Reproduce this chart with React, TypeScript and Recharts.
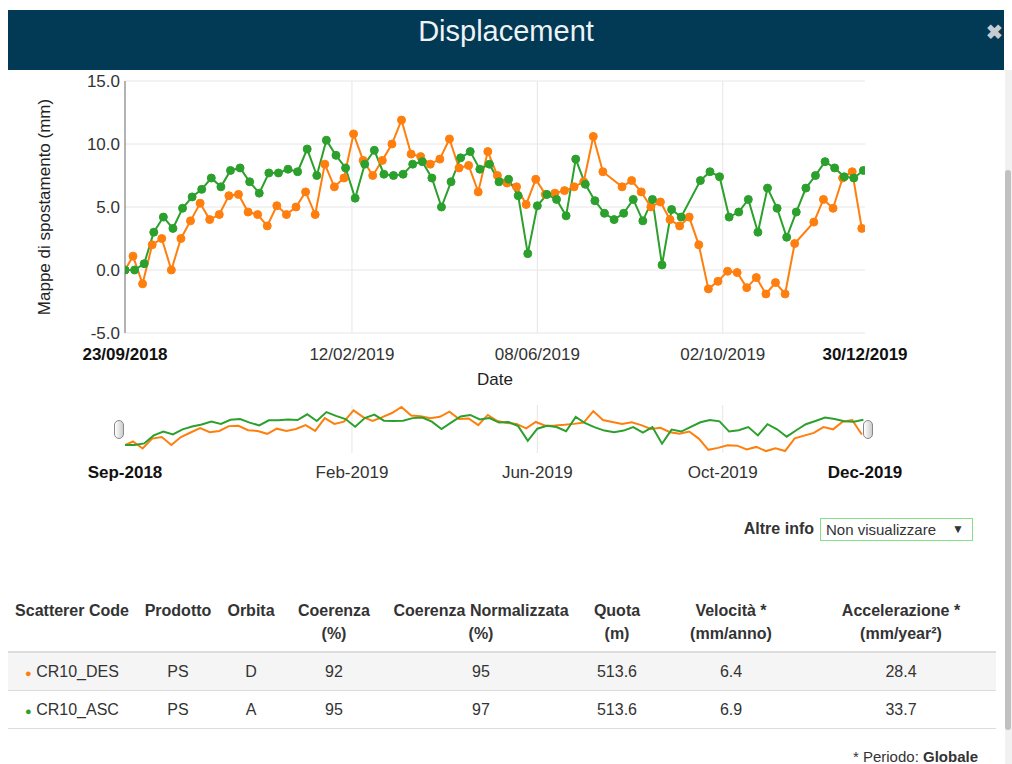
import React from "react"
import { LineChart, Line, XAxis, YAxis, CartesianGrid } from "recharts"

// acquisition days counted from the first date of the series
const startDate = "2018-09-23"
const tickDates = ["2018-09-23", "2019-02-12", "2019-06-08", "2019-10-02", "2019-12-30"]
const yTicks = [-5, 0, 5, 10, 15]
const monthNames = ["Jan", "Feb", "Mar", "Apr", "May", "Jun", "Jul", "Aug", "Sep", "Oct", "Nov", "Dec"]

const desDays = [
  0, 5, 11, 17, 23, 29, 35, 41, 47, 53, 59, 65, 71, 77, 83, 89, 95, 101, 107, 113, 119, 125, 131, 137,
  143, 149, 155, 161, 167, 173, 179, 185, 191, 197, 203, 209, 215, 221, 227, 233, 239, 245, 251, 257,
  263, 269, 275, 281, 287, 293, 299, 311, 317, 323, 329, 335, 341, 347, 353, 359, 365, 371, 377, 383,
  389, 395, 401, 407, 413, 419, 431, 437, 443, 449, 455, 461,
]
const desValues = [
  0.0, 1.1, -1.1, 2.0, 2.5, 0.0, 2.5, 3.9, 5.3, 4.0, 4.4, 5.9, 6.0, 4.6, 4.4, 3.5, 5.1, 4.4, 5.0, 6.2,
  4.4, 8.4, 6.6, 7.3, 10.8, 8.7, 7.5, 8.7, 10.0, 11.9, 9.2, 9.0, 8.4, 8.8, 10.4, 8.1, 8.3, 6.2, 9.4,
  7.5, 6.9, 6.6, 5.2, 7.2, 6.0, 6.1, 6.3, 6.6, 7.0, 10.6, 7.8, 6.6, 7.1, 6.2, 5.0, 5.4, 4.0, 3.5, 4.2,
  2.0, -1.5, -0.9, -0.1, -0.2, -1.4, -0.6, -1.9, -1.0, -1.9, 2.1, 3.8, 5.6, 4.9, 7.3, 7.8, 3.3,
]

const ascDays = [
  0, 6, 12, 18, 24, 30, 36, 42, 48, 54, 60, 66, 72, 78, 84, 90, 96, 102, 108, 114, 120, 126, 132, 138,
  144, 150, 156, 162, 168, 174, 180, 186, 192, 198, 204, 210, 216, 222, 228, 234, 240, 246, 252, 258,
  264, 270, 276, 282, 288, 294, 300, 306, 312, 318, 324, 330, 336, 342, 348, 360, 366, 372, 378, 384,
  390, 396, 402, 408, 414, 420, 426, 432, 438, 444, 450, 456, 462,
]
const ascValues = [
  0.0, 0.0, 0.5, 3.0, 4.2, 3.3, 4.9, 5.8, 6.4, 7.3, 6.6, 7.9, 8.1, 7.0, 6.1, 7.7, 7.7, 8.0, 7.8, 9.6,
  7.5, 10.3, 9.1, 8.1, 5.7, 8.4, 9.5, 7.6, 7.5, 7.6, 8.4, 8.6, 7.3, 5.0, 7.0, 8.9, 9.4, 8.0, 8.4, 7.0,
  7.2, 5.9, 1.3, 5.1, 6.0, 5.6, 4.3, 8.8, 6.8, 5.5, 4.5, 4.0, 4.5, 5.6, 3.9, 5.6, 0.4, 4.8, 4.2, 7.1,
  7.8, 7.4, 4.2, 4.6, 5.6, 3.0, 6.5, 4.9, 2.6, 4.6, 6.5, 7.5, 8.6, 8.1, 7.4, 7.3, 7.9,
]

const tableHeaders = [
  ["Scatterer Code"],
  ["Prodotto"],
  ["Orbita"],
  ["Coerenza", "(%)"],
  ["Coerenza Normalizzata", "(%)"],
  ["Quota", "(m)"],
  ["Velocità *", "(mm/anno)"],
  ["Accelerazione *", "(mm/year²)"],
]
const desRow = ["CR10_DES", "PS", "D", "92", "95", "513.6", "6.4", "28.4"]
const ascRow = ["CR10_ASC", "PS", "A", "95", "97", "513.6", "6.9", "33.7"]

const DAY = 86400000
const t0 = Date.parse(startDate)
const tickTimes = tickDates.map((d) => Date.parse(d))
const desData = desDays.map((d, i) => ({ t: t0 + d * DAY, v: desValues[i] }))
const ascData = ascDays.map((d, i) => ({ t: t0 + d * DAY, v: ascValues[i] }))

const FONT = '"Liberation Sans", Arial, Helvetica, sans-serif'
const ORANGE = "#ff7f0e"
const GREEN = "#2ca02c"
const GRID = "#e6e6e6"
const colCenters = [72, 178, 251, 334, 481, 617, 731, 901]

const pad = (n: number) => String(n).padStart(2, "0")
const fmtFull = (t: number) => {
  const d = new Date(t)
  return `${pad(d.getUTCDate())}/${pad(d.getUTCMonth() + 1)}/${d.getUTCFullYear()}`
}
const fmtMonth = (t: number) => {
  const d = new Date(t)
  return `${monthNames[d.getUTCMonth()]}-${d.getUTCFullYear()}`
}

function dateTick(fmt: (t: number) => string, dy: number) {
  return (props: any) => {
    const { x, y, payload } = props
    const v = payload.value
    const edge = v === tickTimes[0] || v === tickTimes[tickTimes.length - 1]
    return (
      <text
        x={x}
        y={y}
        dy={dy}
        textAnchor="middle"
        fontFamily={FONT}
        fontSize={17}
        fontWeight={edge ? 700 : 400}
        fill={edge ? "#111" : "#333"}
      >
        {fmt(v)}
      </text>
    )
  }
}

const abs = (s: React.CSSProperties): React.CSSProperties => ({ position: "absolute", ...s })

export default function App() {
  return (
    <div
      style={{
        position: "absolute",
        left: 0,
        top: 0,
        width: 1012,
        height: 764,
        overflow: "hidden",
        background: "#fff",
        fontFamily: FONT,
        color: "#333",
      }}
    >
      <div
        style={abs({
          left: 8,
          top: 10,
          width: 996,
          height: 60,
          background: "#023955",
          color: "#eef3f6",
          fontSize: 29,
          lineHeight: "42px",
          textAlign: "center",
        })}
      >
        Displacement
      </div>
      <div style={abs({ left: 986, top: 20, fontSize: 20, color: "#c6cdd2", fontWeight: 700 })}>✖</div>

      <div style={abs({ left: 1005, top: 70, width: 7, height: 694, background: "#f1f1f1" })} />
      <div style={abs({ left: 1005, top: 170, width: 6, height: 560, background: "#c1c1c1", borderRadius: 3 })} />

      <div style={abs({ left: 0, top: 0 })}>
        <LineChart width={1012} height={400} margin={{ top: 81, right: 147, bottom: 37, left: 0 }}>
          <CartesianGrid stroke={GRID} verticalValues={tickTimes.slice(1, -1)} />
          <XAxis
            type="number"
            dataKey="t"
            domain={[tickTimes[0], tickTimes[tickTimes.length - 1]]}
            ticks={tickTimes}
            interval={0}
            allowDataOverflow
            axisLine={false}
            tickLine={false}
            height={30}
            tick={dateTick(fmtFull, 19)}
          />
          <YAxis
            type="number"
            domain={[-5, 15]}
            ticks={yTicks}
            interval={0}
            width={125}
            tickSize={0}
            tickMargin={5}
            tickLine={false}
            axisLine={{ stroke: "#666" }}
            tickFormatter={(v: number) => v.toFixed(1)}
            tick={{ fontSize: 17, fill: "#333", fontFamily: FONT }}
          />
          <Line
            data={desData}
            dataKey="v"
            stroke={ORANGE}
            strokeWidth={2}
            dot={{ r: 4, fill: ORANGE, stroke: ORANGE, strokeWidth: 1 }}
            activeDot={false}
            isAnimationActive={false}
          />
          <Line
            data={ascData}
            dataKey="v"
            stroke={GREEN}
            strokeWidth={2}
            dot={{ r: 4, fill: GREEN, stroke: GREEN, strokeWidth: 1 }}
            activeDot={false}
            isAnimationActive={false}
          />
        </LineChart>
      </div>

      <div
        style={abs({
          left: 45 - 150,
          top: 207 - 10,
          width: 300,
          lineHeight: "20px",
          textAlign: "center",
          fontSize: 17,
          color: "#222",
          transform: "rotate(-90deg)",
        })}
      >
        Mappe di spostamento (mm)
      </div>
      <div style={abs({ left: 125, top: 370, width: 740, lineHeight: "20px", textAlign: "center", fontSize: 17, color: "#222" })}>
        Date
      </div>

      <div style={abs({ left: 0, top: 380 })}>
        <LineChart width={1012} height={110} margin={{ top: 25, right: 147, bottom: 7, left: 125 }}>
          <CartesianGrid stroke={GRID} horizontal={false} verticalValues={tickTimes.slice(1, -1)} />
          <XAxis
            type="number"
            dataKey="t"
            domain={[tickTimes[0], tickTimes[tickTimes.length - 1]]}
            ticks={tickTimes}
            interval={0}
            allowDataOverflow
            axisLine={false}
            tickLine={false}
            height={30}
            tick={dateTick(fmtMonth, 17)}
          />
          <YAxis hide type="number" domain={[-2.5, 12.5]} />
          <Line data={desData} dataKey="v" stroke={ORANGE} strokeWidth={2} dot={false} activeDot={false} isAnimationActive={false} />
          <Line data={ascData} dataKey="v" stroke={GREEN} strokeWidth={2} dot={false} activeDot={false} isAnimationActive={false} />
        </LineChart>
      </div>
      {[119, 868].map((cx) => (
        <div
          key={cx}
          style={abs({
            left: cx - 5,
            top: 420,
            width: 8,
            height: 17,
            border: "1px solid #888",
            borderRadius: 5,
            background: "linear-gradient(90deg, #fff, #ccc)",
          })}
        />
      ))}

      <div style={abs({ left: 680, top: 520, width: 134, textAlign: "right", fontSize: 16, lineHeight: "18px", fontWeight: 700, color: "#333" })}>
        Altre info
      </div>
      <div
        style={abs({
          left: 820,
          top: 518,
          width: 153,
          height: 23,
          boxSizing: "border-box",
          border: "1px solid #86e086",
          padding: "0 8px 0 5px",
          fontSize: 15,
          lineHeight: "21px",
          display: "flex",
          justifyContent: "space-between",
          color: "#333",
        })}
      >
        <span>Non visualizzare</span>
        <span style={{ fontSize: 12 }}>▼</span>
      </div>

      {tableHeaders.map((lines, i) => (
        <div
          key={i}
          style={abs({
            left: colCenters[i] - 110,
            top: 599,
            width: 220,
            textAlign: "center",
            fontSize: 16,
            fontWeight: 700,
            lineHeight: "23px",
            color: "#333",
          })}
        >
          {lines.map((l, j) => (
            <div key={j}>{l}</div>
          ))}
        </div>
      ))}
      <div style={abs({ left: 8, top: 651, width: 988, height: 2, background: "#ddd" })} />
      <div style={abs({ left: 8, top: 653, width: 988, height: 37, background: "#f5f5f5" })} />
      <div style={abs({ left: 8, top: 690, width: 988, height: 1, background: "#ddd" })} />
      <div style={abs({ left: 8, top: 728, width: 988, height: 1, background: "#ddd" })} />
      {[
        { row: desRow, color: ORANGE, top: 653 },
        { row: ascRow, color: GREEN, top: 691 },
      ].map(({ row, color, top }) =>
        row.map((cell, i) => (
          <div
            key={`${top}-${i}`}
            style={abs({
              left: colCenters[i] - 110,
              top,
              width: 220,
              height: 37,
              lineHeight: "37px",
              textAlign: "center",
              fontSize: 16,
              color: "#333",
            })}
          >
            {i === 0 ? (
              <span>
                <span style={{ color, fontSize: 11 }}>●</span> {cell}
              </span>
            ) : (
              cell
            )}
          </div>
        ))
      )}

      <div style={abs({ left: 600, top: 748, width: 378, textAlign: "right", fontSize: 15, lineHeight: "18px", color: "#333" })}>
        * Periodo: <b>Globale</b>
      </div>
    </div>
  )
}
